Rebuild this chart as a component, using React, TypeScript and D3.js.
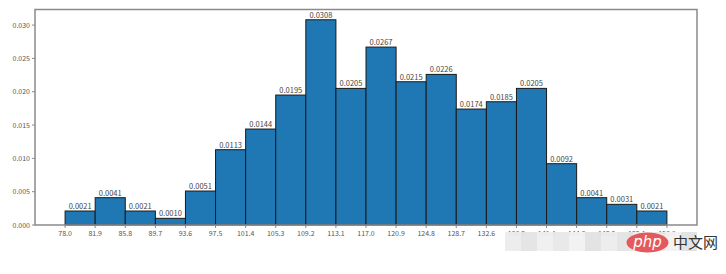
import React from "react";
import * as d3 from "d3";

const binEdges = [78.0, 81.9, 85.8, 89.7, 93.6, 97.5, 101.4, 105.3, 109.2, 113.1, 117.0, 120.9, 124.8, 128.7, 132.6, 136.5, 140.4, 144.3, 148.2, 152.1, 156.0];
const densities = [0.0021, 0.0041, 0.0021, 0.0010, 0.0051, 0.0113, 0.0144, 0.0195, 0.0308, 0.0205, 0.0267, 0.0215, 0.0226, 0.0174, 0.0185, 0.0205, 0.0092, 0.0041, 0.0031, 0.0021];
const yTicks = [0.0, 0.005, 0.01, 0.015, 0.02, 0.025, 0.03];

const W = 726, H = 274;
const left = 35, right = 697, top = 9.5, bottom = 225;
const font = "'Noto Sans CJK SC', 'DejaVu Sans', sans-serif";

export default function App() {
  const xMin = binEdges[0], xMax = binEdges[binEdges.length - 1];
  const margin = (xMax - xMin) * 0.05;
  const x = d3.scaleLinear().domain([xMin - margin, xMax + margin]).range([left, right]);
  const yMax = (d3.max(densities) as number) * 1.05;
  const y = d3.scaleLinear().domain([0, yMax]).range([bottom, top]);
  const mosaic = d3.range(12).map((i) => i);
  return (
    <svg width={W} height={H} style={{ position: "absolute", left: 0, top: 0, background: "#fff" }}>
      {densities.map((d, i) => (
        <g key={i}>
          <rect x={x(binEdges[i])} y={y(d)} width={x(binEdges[i + 1]) - x(binEdges[i])} height={y(0) - y(d)}
            fill="#1f77b4" stroke="#1a1a1a" strokeWidth={1} />
          <text x={(x(binEdges[i]) + x(binEdges[i + 1])) / 2} y={y(d) - 2} textAnchor="middle"
            fontSize={7.5} fill="#444" fontFamily={font}>{d.toFixed(4)}</text>
        </g>
      ))}
      <rect x={left} y={top} width={right - left} height={bottom - top} fill="none" stroke="#8a8a8a" strokeWidth={1.5} />
      {yTicks.map((t) => (
        <g key={t}>
          <line x1={left - 3} x2={left} y1={y(t)} y2={y(t)} stroke="#8a8a8a" strokeWidth={1} />
          <text x={left - 5} y={y(t) + 2.5} textAnchor="end" fontSize={7} fill="#555" fontFamily={font}>{t.toFixed(3)}</text>
        </g>
      ))}
      {binEdges.map((t) => (
        <g key={t}>
          <line x1={x(t)} x2={x(t)} y1={bottom} y2={bottom + 3} stroke="#8a8a8a" strokeWidth={1} />
          <text x={x(t)} y={bottom + 11} textAnchor="middle" fontSize={7} fill="#555" fontFamily={font}>{t.toFixed(1)}</text>
        </g>
      ))}
      {/* watermark */}
      {mosaic.map((i) => (
        <rect key={i} x={505 + i * 16} y={232} width={16} height={19}
          fill={["#ececec", "#e4e4e4", "#efefef", "#e8e8e8", "#f1f1f1", "#e2e2e2"][i % 6]} opacity={0.95} />
      ))}
      <ellipse cx={647.5} cy={242.5} rx={21} ry={10} fill="#e5585c" />
      <text x={647.5} y={247} textAnchor="middle" fontSize={15} fontStyle="italic" fill="#fff" fontFamily="'DejaVu Sans', sans-serif">php</text>
      <text x={673} y={248} fontSize={15} fill="#333" fontFamily="'Noto Sans CJK SC', sans-serif">中文网</text>
    </svg>
  );
}
